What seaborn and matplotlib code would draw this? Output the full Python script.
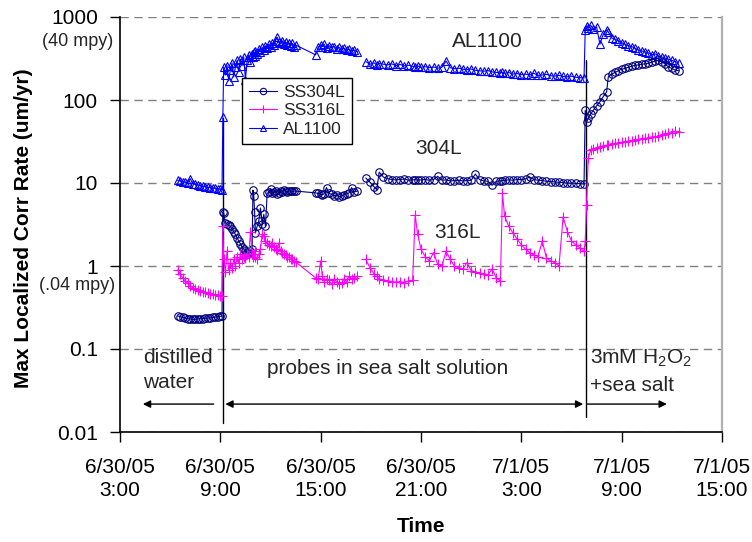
import numpy as np
import pandas as pd
import matplotlib
matplotlib.use("Agg")
import matplotlib.pyplot as plt
import matplotlib.transforms as mtransforms
from matplotlib.lines import Line2D
from matplotlib.ticker import NullLocator
import seaborn as sns

# ---------------- data (hours after 6/30/05 3:00) ----------------
hours = [
    # distilled water
    3.45, 3.6, 3.75, 3.9, 4.05, 4.2, 4.35, 4.5, 4.65, 4.8, 4.95, 5.1, 5.25, 5.4, 5.55, 5.7, 5.85, 6.0, 6.1,
    # sea salt, first run
    6.15, 6.2, 6.3, 6.4, 6.5, 6.6, 6.7, 6.8, 6.9, 7.0, 7.1, 7.2, 7.3, 7.4, 7.5, 7.6, 7.7, 7.8, 7.9, 7.95,
    8.0, 8.05, 8.1, 8.2, 8.3, 8.4, 8.5, 8.6, 8.7, 8.8, 8.9, 9.0, 9.1, 9.2, 9.3, 9.4, 9.5, 9.6, 9.7, 9.8,
    9.9, 10.0, 10.1, 10.2, 10.3, 10.4, 10.5,
    11.7, 11.85, 12.0, 12.1, 12.2, 12.35, 12.5, 12.65, 12.8, 12.95, 13.1, 13.25, 13.4, 13.55, 13.7, 13.85, 14.0, 14.2,
    # sea salt, second run
    14.7, 14.95, 15.2, 15.35, 15.5, 15.75, 16.0, 16.25, 16.5, 16.75, 17.0, 17.25, 17.5, 17.65, 17.8,
    18.0, 18.25, 18.5, 18.75, 19.0, 19.25, 19.5, 19.75, 20.0, 20.25, 20.5, 20.75, 21.0, 21.25, 21.5, 21.75,
    22.0, 22.25, 22.5, 22.75, 22.87, 23.0, 23.25, 23.5, 23.75, 24.0, 24.25, 24.5, 24.75, 25.0, 25.25, 25.5,
    25.75, 26.0, 26.25, 26.5, 26.75, 27.0, 27.25, 27.5, 27.75,
    # H2O2 + sea salt
    27.82, 27.9, 28.0, 28.15, 28.3, 28.5, 28.7, 28.9, 29.1, 29.2, 29.4, 29.6, 29.8, 30.0, 30.2, 30.4, 30.6,
    30.8, 31.0, 31.2, 31.4, 31.6, 31.8, 32.0, 32.2, 32.4, 32.6, 32.8, 33.0, 33.2, 33.4,
]

ss304l = [
    0.25, 0.245, 0.24, 0.235, 0.232, 0.23, 0.228, 0.228, 0.23, 0.232, 0.233, 0.235, 0.236, 0.238, 0.24, 0.242, 0.245, 0.248, 0.25,
    4.5, 4.4, 3.3, 3.2, 3.1, 3.0, 2.8, 2.6, 2.4, 2.2, 2.0, 1.85, 1.7, 1.6, 1.5, 1.45, 1.45, 1.5, 1.6, 8.2,
    7.0, 4.5, 2.5, 3.0, 3.5, 5.0, 3.2, 4.2, 3.0, 7.5, 7.8, 8.5, 7.6, 7.8, 8.0, 7.4, 7.6, 7.9, 7.8, 8.2,
    8.0, 7.8, 8.0, 8.1, 7.9, 8.0, 8.0,
    7.6, 7.5, 7.3, 7.2, 7.4, 8.8, 7.5, 7.3, 7.0, 7.2, 6.8, 7.0, 7.2, 7.4, 7.6, 8.8, 7.8, 8.0,
    11.5, 10.2, 9.0, 8.3, 13.5, 11.8, 11.3, 11.0, 10.9, 11.0, 11.2, 10.8, 10.9, 11.0, 10.8,
    10.9, 11.0, 10.8, 11.0, 12.0, 10.8, 10.9, 10.6, 10.7, 10.8, 10.6, 10.7, 10.8, 12.8, 11.0, 10.6,
    10.5, 9.4, 10.5, 10.6, 10.7, 10.8, 10.9, 10.8, 11.0, 11.0, 11.2, 11.8, 11.0, 10.8, 10.7, 10.5,
    10.4, 10.3, 10.2, 10.1, 10.0, 10.0, 9.9, 9.8, 9.7,
    75, 55, 60, 68, 75, 85, 95, 110, 125, 190, 205, 215, 225, 235, 240, 248, 255,
    262, 265, 270, 272, 278, 285, 295, 300, 290, 270, 250, 240, 230, 225,
]

ss316l = [
    0.9, 0.8, 0.72, 0.66, 0.62, 0.58, 0.55, 0.53, 0.51, 0.5, 0.49, 0.48, 0.47, 0.46, 0.455, 0.45, 0.45, 0.44, 0.44,
    3.0, 1.2, 0.85, 1.5, 0.9, 1.1, 0.95, 1.2, 1.0, 1.3, 1.1, 1.4, 1.2, 1.3, 1.25, 1.4, 1.3, 2.6, 1.4, 1.3,
    1.4, 1.5, 1.3, 1.2, 1.4, 1.6, 2.4, 2.3, 2.0, 1.9, 1.8, 1.75, 1.9, 1.7, 1.6, 1.55, 1.9, 1.5, 1.45, 1.4,
    1.35, 1.3, 1.28, 1.22, 1.2, 1.15, 1.12,
    0.72, 0.7, 1.15, 0.75, 0.65, 0.7, 0.68, 0.6, 0.7, 0.65, 0.6, 0.62, 0.7, 0.65, 0.75, 0.7, 0.72, 0.75,
    1.2, 0.95, 0.8, 0.75, 0.7, 0.68, 0.66, 0.65, 0.64, 0.65, 0.63, 0.66, 0.67, 4.1, 2.4,
    1.6, 1.3, 1.15, 1.45, 1.05, 1.0, 1.5, 1.2, 1.0, 0.95, 0.92, 1.1, 0.88, 0.85, 0.82, 0.8,
    0.78, 0.92, 0.72, 0.66, 7.5, 4.0, 3.0, 2.5, 2.1, 1.8, 1.6, 1.45, 1.35, 1.3, 2.0, 1.25,
    1.15, 1.1, 1.0, 3.9, 2.6, 2.0, 1.8, 1.65, 1.5,
    2.0, 5.5, 20, 25, 26, 26.5, 27, 28, 28.5, 29, 29.5, 30, 30.5, 31, 31.5, 32, 32.5,
    33, 33.5, 34, 34.5, 35, 36, 35.5, 37, 38, 39, 40, 40.5, 42, 41,
]

al1100 = [
    10.8, 10.6, 10.4, 10.2, 10.0, 11.3, 9.8, 9.6, 9.5, 9.3, 9.2, 9.0, 8.9, 8.8, 8.7, 8.6, 8.5, 8.4, 8.3,
    62, 250, 200, 260, 170, 230, 280, 190, 250, 300, 220, 310, 260, 330, 175, 300, 350, 290, 360, 330,
    380, 340, 390, 360, 410, 380, 430, 400, 450, 420, 470, 440, 490, 460, 520, 570, 500, 480, 510, 470,
    500, 460, 490, 450, 480, 440, 460,
    350, 430, 460, 440, 470, 420, 450, 430, 440, 410, 430, 410, 420, 400, 410, 390, 400, 380,
    290, 270, 280, 265, 275, 270, 265, 272, 260, 268, 258, 262, 255, 250, 258,
    248, 252, 245, 250, 242, 248, 295, 245, 238, 242, 235, 232, 236, 228, 225, 222,
    226, 218, 215, 212, 216, 210, 214, 205, 208, 202, 205, 200, 210, 198, 200, 204,
    196, 194, 198, 192, 190, 194, 188, 186, 184,
    700, 780, 740, 790, 720, 760, 470, 620, 700, 660, 560, 540, 520, 490, 470, 450, 440,
    420, 400, 390, 380, 370, 350, 360, 340, 330, 320, 310, 300, 290, 280,
]

series_names = ["SS304L", "SS316L", "AL1100"]
series_colors = {"SS304L": "#000080", "SS316L": "#FF00FF", "AL1100": "#0000FF"}
series_markers = {"SS304L": "o", "SS316L": "+", "AL1100": "^"}
series_msize = {"SS304L": 5.4, "SS316L": 6.5, "AL1100": 5.6}

GAP_AFTER = 14.45          # recording break between the two runs
EVENT1_H = 6.15            # probes moved into sea salt
EVENT2_H = 27.86           # H2O2 added

x_ticks = [0, 6, 12, 18, 24, 30, 36]
x_tick_labels = ["6/30/05\n3:00", "6/30/05\n9:00", "6/30/05\n15:00", "6/30/05\n21:00",
                 "7/1/05\n3:00", "7/1/05\n9:00", "7/1/05\n15:00"]
y_ticks = [0.01, 0.1, 1, 10, 100, 1000]
y_tick_labels = ["0.01", "0.1", "1", "10", "100", "1000"]

# ---------------- build long dataframe ----------------
n = len(hours)
df = pd.DataFrame({
    "hours": hours * 3,
    "value": ss304l + ss316l + al1100,
    "series": ["SS304L"] * n + ["SS316L"] * n + ["AL1100"] * n,
})
df["run"] = (df["hours"] > GAP_AFTER).astype(int)

# ---------------- style ----------------
sns.set_theme(style="ticks")
plt.rcParams["font.family"] = ["Liberation Sans", "DejaVu Sans"]
plt.rcParams["mathtext.fontset"] = "custom"
plt.rcParams["mathtext.rm"] = "Liberation Sans"
plt.rcParams["mathtext.it"] = "Liberation Sans:italic"
plt.rcParams["mathtext.bf"] = "Liberation Sans:bold"

fig = plt.figure(figsize=(7.52, 5.42), dpi=100)
ax = fig.add_axes([120 / 752, 110 / 542, 602 / 752, 415 / 542])

for name in ["AL1100", "SS304L", "SS316L"]:
    sub = df[df["series"] == name]
    c = series_colors[name]
    sns.lineplot(data=sub, x="hours", y="value", units="run", estimator=None, sort=False,
                 color=c, marker=series_markers[name], markersize=series_msize[name],
                 markerfacecolor="none", markeredgecolor=c, markeredgewidth=0.8,
                 linewidth=0.8, legend=False, ax=ax, zorder=3)

ax.set_yscale("log")
ax.set_ylim(0.01, 1000)
ax.set_xlim(0, 36)
ax.set_yticks(y_ticks)
ax.set_yticklabels(y_tick_labels)
ax.yaxis.set_minor_locator(NullLocator())
ax.set_xticks(x_ticks)
ax.set_xticklabels(x_tick_labels)
for lbl in ax.get_xticklabels():
    lbl.set_linespacing(1.25)

ax.tick_params(axis="both", direction="out", length=7, width=1, color="black",
               labelsize=15, labelcolor="black")
ax.tick_params(axis="x", pad=12)
ax.tick_params(axis="y", pad=9)

ax.grid(axis="y", which="major", linestyle=(0, (6, 4)), color="#808080", linewidth=1)
ax.set_axisbelow(True)

for s in ["left", "bottom"]:
    ax.spines[s].set_color("black")
    ax.spines[s].set_linewidth(1.2)
ax.spines["top"].set_visible(False)
ax.spines["right"].set_color("#b0b0b0")
ax.spines["right"].set_linewidth(1.6)

ax.set_ylabel("Max Localized Corr Rate (um/yr)", fontsize=15, fontweight="bold", color="black")
ax.yaxis.set_label_coords(-0.1445, 0.49)
ax.set_xlabel("Time", fontsize=15, fontweight="bold", color="black")
ax.xaxis.set_label_coords(0.5, -0.205)

# mpy annotations under tick labels
trans = mtransforms.blended_transform_factory(ax.transAxes, ax.transData)
ax.text(-0.012, 500, "(40 mpy)", transform=trans, ha="right", va="center", fontsize=13)
ax.text(-0.008, 0.58, "(.04 mpy)", transform=trans, ha="right", va="center", fontsize=13)

# event lines
ax.plot([EVENT1_H, EVENT1_H], [0.013, 60], color="black", linewidth=1, zorder=2)
ax.plot([EVENT2_H, EVENT2_H], [0.015, 300], color="black", linewidth=1, zorder=2)

# arrows
ARROW_Y = 0.0217
arw = dict(color="black", lw=1, mutation_scale=11, shrinkA=0, shrinkB=0)
ax.annotate("", xy=(1.37, ARROW_Y), xytext=(5.6, ARROW_Y), arrowprops=dict(arrowstyle="-|>", **arw))
ax.annotate("", xy=(6.3, ARROW_Y), xytext=(27.7, ARROW_Y), arrowprops=dict(arrowstyle="<|-|>", **arw))
ax.annotate("", xy=(32.7, ARROW_Y), xytext=(27.95, ARROW_Y), arrowprops=dict(arrowstyle="-|>", **arw))

# region texts
ax.text(1.37, 0.078, "distilled", ha="left", va="center", fontsize=15)
ax.text(1.37, 0.039, "water", ha="left", va="center", fontsize=15)
ax.text(16.03, 0.0575, "probes in sea salt solution", ha="center", va="center", fontsize=15)
ax.text(28.1, 0.078, r"3mM H$_2$O$_2$", ha="left", va="center", fontsize=15)
ax.text(28.1, 0.036, "+sea salt", ha="left", va="center", fontsize=15)

# series labels
ax.text(21.97, 500, "AL1100", ha="center", va="center", fontsize=15)
ax.text(19.04, 26.3, "304L", ha="center", va="center", fontsize=15)
ax.text(20.18, 2.5, "316L", ha="center", va="center", fontsize=15)

# legend
handles = [Line2D([], [], color=series_colors[nm], marker=series_markers[nm],
                  markersize=series_msize[nm] * 0.85, markerfacecolor="none",
                  markeredgecolor=series_colors[nm], markeredgewidth=0.8, linewidth=0.8)
           for nm in series_names]
leg = ax.legend(handles, series_names, loc="upper left", bbox_to_anchor=(0.2027, 0.853),
                borderaxespad=0, fontsize=12.5, frameon=True, fancybox=False,
                edgecolor="black", framealpha=1, handlelength=1.6, labelspacing=0.18,
                borderpad=0.4, handletextpad=0.35)
leg.get_frame().set_linewidth(1)
leg.set_zorder(5)

fig.savefig("out.png", dpi=100)
